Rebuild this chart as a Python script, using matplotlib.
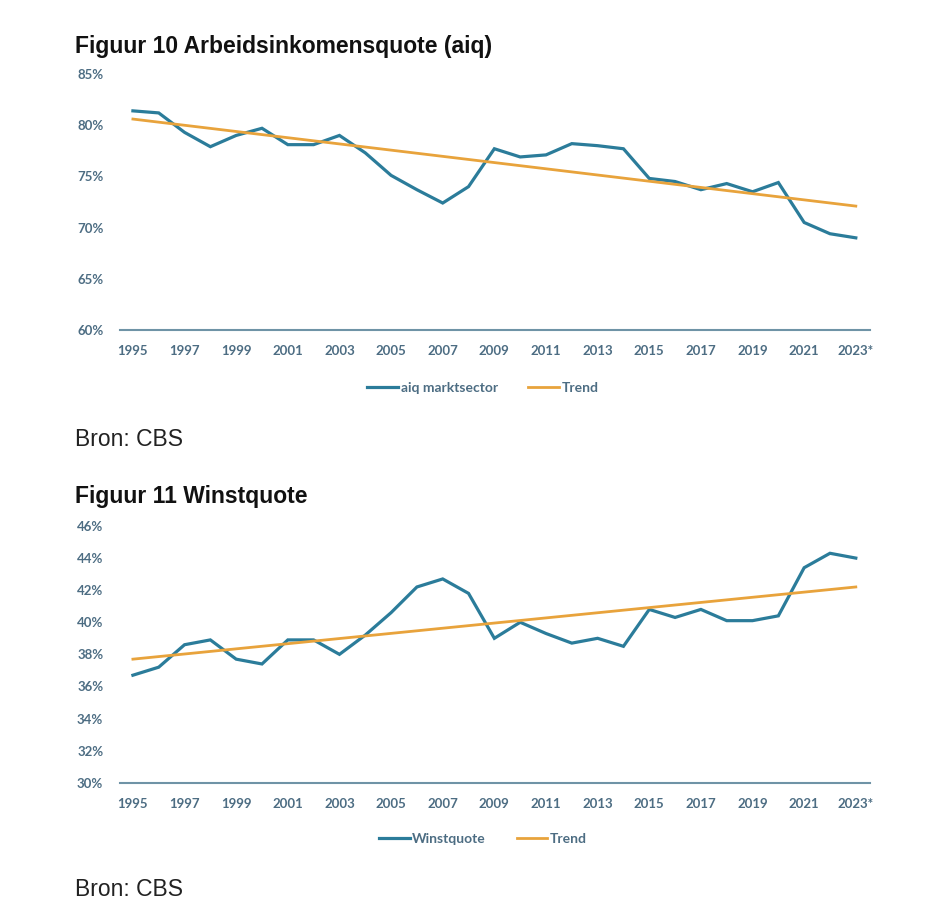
import matplotlib.pyplot as plt
import numpy as np

# --- kleuren ---
C_LINE = "#2B7C9A"   # blauw  — aiq / winstquote
C_TREND = "#E8A33C"  # oranje — trendlijn
C_AXIS = "#6F93A6"   # as-lijn
C_TICK = "#4D6D83"   # labels

# --- data ---
years = list(range(1995, 2024))
year_labels = [str(y) for y in range(1995, 2023, 2)] + ["2023*"]

aiq = [81.4, 81.2, 79.3, 77.9, 79.0, 79.7, 78.1, 78.1, 79.0, 77.3,
       75.1, 73.7, 72.4, 74.0, 77.7, 76.9, 77.1, 78.2, 78.0, 77.7,
       74.8, 74.5, 73.7, 74.3, 73.5, 74.4, 70.5, 69.4, 69.0]
trend_aiq_years = [1995, 2023]
trend_aiq = [80.6, 72.1]

winst = [36.7, 37.2, 38.6, 38.9, 37.7, 37.4, 38.9, 38.9, 38.0, 39.2,
         40.6, 42.2, 42.7, 41.8, 39.0, 40.0, 39.3, 38.7, 39.0, 38.5,
         40.8, 40.3, 40.8, 40.1, 40.1, 40.4, 43.4, 44.3, 44.0]
trend_winst_years = [1995, 2023]
trend_winst = [37.7, 42.2]

W, H = 945, 918
fig = plt.figure(figsize=(W / 100, H / 100), dpi=100)
fig.patch.set_facecolor("white")


def px(x, y):
    return x / W, 1 - y / H


def panel(top, bottom, ylim, yticks, series, label, trend_x, trend_y, legend_y):
    l, b = px(120, bottom)
    r, t = px(870, top)
    ax = fig.add_axes([l, b, r - l, t - b])
    ax.plot(years, series, color=C_LINE, lw=2.3, label=label, solid_joinstyle="miter")
    ax.plot(trend_x, trend_y, color=C_TREND, lw=2.0, label="Trend")
    ax.set_xlim(1994.5, 2023.55)
    ax.set_ylim(*ylim)
    ax.set_yticks(yticks)
    ax.set_yticklabels([f"{v}%" for v in yticks])
    ax.set_xticks(range(1995, 2024, 2))
    ax.set_xticklabels(year_labels)
    for s in ["top", "right", "left"]:
        ax.spines[s].set_visible(False)
    ax.spines["bottom"].set_color(C_AXIS)
    ax.spines["bottom"].set_linewidth(1.5)
    ax.tick_params(length=0, colors=C_TICK, labelsize=9.5)
    ax.tick_params(axis="y", pad=12)
    ax.tick_params(axis="x", pad=11)
    for lab in ax.get_xticklabels() + ax.get_yticklabels():
        lab.set_fontfamily("Lato")
        lab.set_fontweight("bold")
    fig.legend(
        *ax.get_legend_handles_labels(),
        loc="center",
        bbox_to_anchor=px(483, legend_y),
        ncol=2,
        frameon=False,
        handlelength=2.2,
        handletextpad=0.2,
        columnspacing=2.2,
        prop={"family": "Lato", "size": 10, "weight": "bold"},
        labelcolor=C_TICK,
    )
    return ax


panel(74, 330, (60, 85), [60, 65, 70, 75, 80, 85], aiq, "aiq marktsector",
      trend_aiq_years, trend_aiq, 388)
panel(526, 782.7, (30, 46), [30, 32, 34, 36, 38, 40, 42, 44, 46], winst, "Winstquote",
      trend_winst_years, trend_winst, 839)

# --- titels en bron ---
fig.text(*px(75, 47), "Figuur 10 Arbeidsinkomensquote (aiq)", fontsize=16.5,
         fontweight="bold", family="Liberation Sans", va="center", color="#111111")
fig.text(*px(75, 440), "Bron: CBS", fontsize=16.5, family="Liberation Sans",
         va="center", color="#222222")
fig.text(*px(75, 497), "Figuur 11 Winstquote", fontsize=16.5,
         fontweight="bold", family="Liberation Sans", va="center", color="#111111")
fig.text(*px(75, 890), "Bron: CBS", fontsize=16.5, family="Liberation Sans",
         va="center", color="#222222")

fig.savefig("out.png", dpi=100, facecolor="white")
